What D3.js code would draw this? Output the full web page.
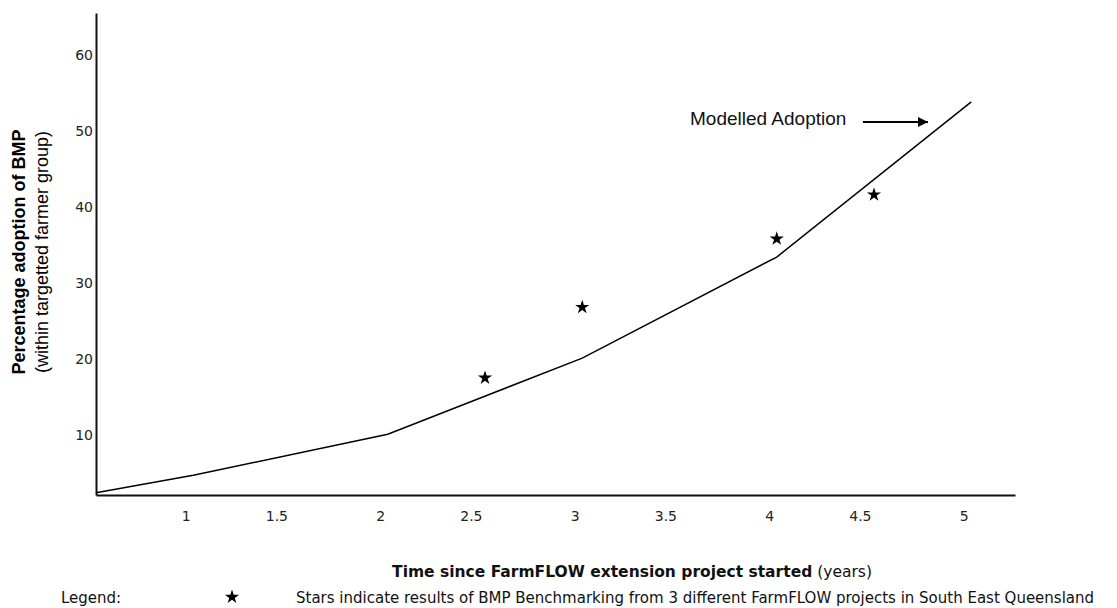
<!DOCTYPE html>
<html>
<head>
<meta charset="utf-8">
<script src="https://cdnjs.cloudflare.com/ajax/libs/d3/7.8.5/d3.min.js"></script>
<style>
  body { margin: 0; background: #fff; }
  .tick-label { font-family: "DejaVu Sans", Verdana, sans-serif; font-size: 14px; fill: #222; }
  .axis-title { font-family: "Liberation Sans", Arial, sans-serif; font-size: 18px; fill: #000; }
  .foot { font-family: "DejaVu Sans", Verdana, sans-serif; font-size: 15px; fill: #111; }
  .foot-title { font-family: "DejaVu Sans", Verdana, sans-serif; font-size: 15.5px; fill: #111; }
  .note { font-family: "Liberation Sans", Arial, sans-serif; font-size: 19px; fill: #111; }
</style>
</head>
<body>
<div class="plot-item"></div>
<script>
// modelled adoption line (years, % adoption)
var modelYears = [0.5, 1, 2, 3, 4, 5];
var modelPct = [2.4, 4.7, 10.1, 20.1, 33.4, 53.8];

// BMP benchmarking results (stars)
var starYears = [2.5, 3, 4, 4.5];
var starPct = [17.5, 26.8, 35.8, 41.6];

var xTicks = [1, 1.5, 2, 2.5, 3, 3.5, 4, 4.5, 5];
var yTicks = [10, 20, 30, 40, 50, 60];

var w = 1117;
var h = 608;
var margin = {
  top: 13,
  left: 96,
  right: 102,
  bottom: 113
};
var width = w - margin.left - margin.right;
var height = h - margin.top - margin.bottom;

var svg = d3.select(".plot-item").append("svg")
      .attr("id", "chart")
      .attr("width", w)
      .attr("height", h);
var chart = svg.append("g")
      .classed("display", true)
      .attr("transform", "translate(" + margin.left + ", " + margin.top + ")");

var x = d3.scaleLinear()
      .domain([0.5, 0.5 + width / 194.5])
      .range([0, width]);
var y = d3.scaleLinear()
      .domain([2.1, 65.5])
      .range([height, 0]);

var xAxis = d3.axisBottom(x)
      .tickValues(xTicks)
      .tickSize(0)
      .tickPadding(0)
      .tickFormat(function(d){ return d; });
var yAxis = d3.axisLeft(y)
      .tickValues(yTicks)
      .tickSize(0)
      .tickPadding(3)
      .tickFormat(function(d){ return d; });

// axes
var gx = chart.append("g")
      .classed("axis x", true)
      .attr("transform", "translate(0," + height + ")")
      .call(xAxis);
gx.select(".domain").attr("stroke", "#111").attr("stroke-width", 2);
gx.selectAll(".tick text")
      .classed("tick-label", true)
      .attr("font-family", null)
      .attr("font-size", null)
      .attr("text-anchor", "end")
      .attr("dx", -3)
      .attr("y", 16)
      .attr("dy", "0.71em");

var gy = chart.append("g")
      .classed("axis y", true)
      .call(yAxis);
gy.select(".domain").attr("stroke", "#111").attr("stroke-width", 2);
gy.selectAll(".tick text")
      .classed("tick-label", true)
      .attr("font-family", null)
      .attr("font-size", null);

// modelled adoption line
var line = d3.line()
      .x(function(d){ return x(d[0]); })
      .y(function(d){ return y(d[1]); });
chart.append("path")
      .datum(d3.zip(modelYears, modelPct))
      .attr("fill", "none")
      .attr("stroke", "#000")
      .attr("stroke-width", 1.5)
      .attr("d", line);

// stars
var star = d3.symbol().type(d3.symbolStar).size(62);
chart.selectAll(".result")
      .data(d3.zip(starYears, starPct))
      .enter()
        .append("path")
        .classed("result", true)
        .attr("d", star)
        .attr("fill", "#000")
        .attr("transform", function(d){
          return "translate(" + x(d[0]) + "," + y(d[1]) + ")";
        });

// annotation arrow
svg.append("defs").append("marker")
      .attr("id", "head")
      .attr("viewBox", "0 0 10 10")
      .attr("refX", 10)
      .attr("refY", 5)
      .attr("markerUnits", "userSpaceOnUse")
      .attr("markerWidth", 11)
      .attr("markerHeight", 10)
      .attr("orient", "auto")
      .append("path")
      .attr("d", "M0,0L10,5L0,10Z")
      .attr("fill", "#000");
svg.append("line")
      .attr("x1", 863).attr("y1", 122)
      .attr("x2", 928).attr("y2", 122)
      .attr("stroke", "#000")
      .attr("stroke-width", 2)
      .attr("marker-end", "url(#head)");
svg.append("text")
      .classed("note", true)
      .attr("x", 690)
      .attr("y", 125)
      .text("Modelled Adoption");

// y axis title
var yt = svg.append("text")
      .classed("axis-title", true)
      .attr("text-anchor", "middle")
      .attr("transform", "translate(25,252) rotate(-90)");
yt.append("tspan")
      .attr("x", 0)
      .attr("font-weight", "bold")
      .text("Percentage adoption of BMP");
yt.append("tspan")
      .attr("x", 0)
      .attr("dy", 23)
      .text("(within targetted farmer group)");

// x axis title
var xt = svg.append("text")
      .classed("foot-title", true)
      .attr("x", 632)
      .attr("y", 577)
      .attr("text-anchor", "middle");
xt.append("tspan").attr("font-weight", "bold").text("Time since FarmFLOW extension project started");
xt.append("tspan").text(" (years)");

// legend
svg.append("text")
      .classed("foot", true)
      .attr("x", 61)
      .attr("y", 603)
      .text("Legend:");
svg.append("path")
      .attr("d", star)
      .attr("fill", "#000")
      .attr("transform", "translate(232,597)");
svg.append("text")
      .classed("foot", true)
      .attr("x", 296)
      .attr("y", 603)
      .text("Stars indicate results of BMP Benchmarking from 3 different FarmFLOW projects in South East Queensland");
</script>
</body>
</html>
